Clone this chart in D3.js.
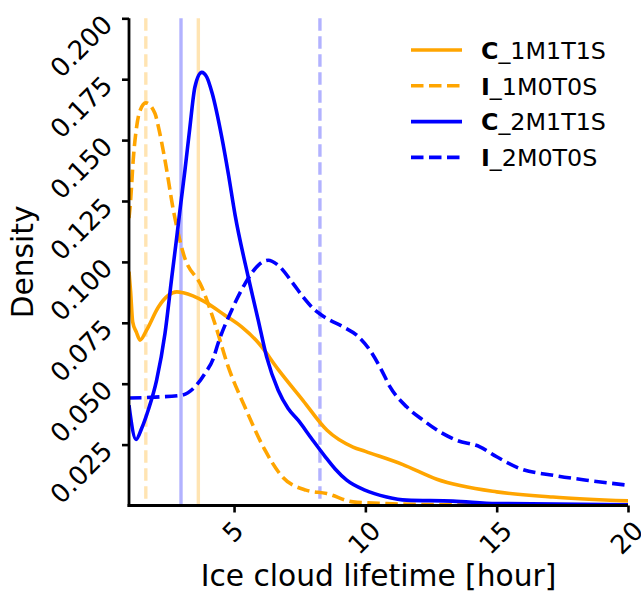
<!DOCTYPE html>
<html>
<head>
<meta charset="utf-8">
<script src="https://cdn.jsdelivr.net/npm/d3@7/dist/d3.min.js"></script>
<style>
  html, body { margin: 0; padding: 0; background: #fff; }
  svg { display: block; font-family: "DejaVu Sans", sans-serif; }
</style>
</head>
<body>
<svg id="chart" width="641" height="591"></svg>
<script>
// ---- Data ----
const seriesNames = ["C_1M1T1S", "I_1M0T0S", "C_2M1T1S", "I_2M0T0S"];
const seriesColors = ["#FFA500", "#FFA500", "#0000FF", "#0000FF"];
const seriesDashed = [false, true, false, true];

const c1m1t1sX = [1.0, 1.06, 1.14, 1.28, 1.42, 1.67, 2.12, 2.5, 2.82, 3.07, 3.89, 4.65, 5.29, 5.99, 6.67, 7.62, 8.54, 9.53, 10.0, 11.43, 12.72, 15.0, 17.14, 20.0];
const c1m1t1sY = [0.096, 0.088, 0.0754, 0.0712, 0.0679, 0.0720, 0.0815, 0.0863, 0.0877, 0.0873, 0.0836, 0.0781, 0.0733, 0.0660, 0.0560, 0.0432, 0.0309, 0.0240, 0.0222, 0.0168, 0.0108, 0.0056, 0.0035, 0.0019];

const i1m0t0sX = [1.0, 1.06, 1.16, 1.29, 1.42, 1.64, 1.99, 2.12, 2.37, 2.69, 3.07, 3.77, 4.27, 4.78, 5.41, 6.18, 6.82, 7.74, 8.53, 9.53, 10.82, 13.2, 20.0];
const i1m0t0sY = [0.118, 0.125, 0.1418, 0.1554, 0.1621, 0.1653, 0.1609, 0.1554, 0.1418, 0.1212, 0.1034, 0.0897, 0.0747, 0.0569, 0.0405, 0.0227, 0.0120, 0.0063, 0.0049, 0.0015, 0.0008, 0.0003, 0.0001];

const c2m1t1sX = [1.0, 1.04, 1.27, 1.48, 1.73, 2.05, 2.37, 2.63, 2.82, 2.94, 3.13, 3.32, 3.51, 3.77, 3.96, 4.17, 4.53, 4.78, 5.04, 5.54, 5.92, 6.24, 6.68, 7.06, 7.44, 7.95, 8.46, 8.85, 9.29, 9.98, 10.81, 11.57, 13.33, 15.0, 20.0];
const c2m1t1sY = [0.0412, 0.0379, 0.0271, 0.0316, 0.0391, 0.0514, 0.0706, 0.0938, 0.1103, 0.1212, 0.1376, 0.1554, 0.1718, 0.1778, 0.1759, 0.1691, 0.1513, 0.1363, 0.1192, 0.0938, 0.0761, 0.0610, 0.0473, 0.0398, 0.0350, 0.0275, 0.0202, 0.0150, 0.0104, 0.0063, 0.0035, 0.0022, 0.0018, 0.0008, 0.0003];

const i2m0t0sX = [1.0, 2.0, 3.0, 3.51, 3.89, 4.21, 4.39, 4.91, 5.42, 5.92, 6.30, 6.68, 7.25, 7.63, 8.08, 8.53, 9.16, 9.67, 10.17, 10.62, 10.94, 11.57, 12.2, 12.84, 13.47, 14.36, 15.0, 15.88, 17.15, 18.42, 20.0];
const i2m0t0sY = [0.0441, 0.0445, 0.0453, 0.0487, 0.0542, 0.0603, 0.0665, 0.0802, 0.0911, 0.0986, 0.1007, 0.0986, 0.0911, 0.0856, 0.0802, 0.0768, 0.0733, 0.0699, 0.0638, 0.0555, 0.0487, 0.0405, 0.0350, 0.0302, 0.0268, 0.0241, 0.0200, 0.0152, 0.0124, 0.0104, 0.0083];

// vertical reference lines (one per series, same order as seriesNames)
const meanLifetimes = [3.64, 1.64, 2.98, 8.27];

const xTicks = [5, 10, 15, 20];
const yTicks = [0.025, 0.05, 0.075, 0.1, 0.125, 0.15, 0.175, 0.2];
const xDomain = [1, 20];
const yDomain = [0, 0.2];
const xLabel = "Ice cloud lifetime [hour]";
const yLabel = "Density";

// ---- Layout ----
const pLeft = 129, pRight = 628, pTop = 18.3, pBottom = 505.5;
const tickFont = 26, labelFont = 29.7, legendFont = 23.8;
const lw = 3.6, dash = "12.5,5.5";

const svg = d3.select("#chart");
const x = d3.scaleLinear().domain(xDomain).range([pLeft, pRight]);
const y = d3.scaleLinear().domain(yDomain).range([pBottom, pTop]);

svg.append("defs").append("clipPath").attr("id", "clip")
  .append("rect").attr("x", pLeft).attr("y", pTop - 2).attr("width", pRight - pLeft).attr("height", pBottom - pTop + 2);

const plot = svg.append("g").attr("clip-path", "url(#clip)");

// vertical mean lines (alpha 0.3)
meanLifetimes.forEach((m, i) => {
  plot.append("line")
    .attr("x1", x(m)).attr("x2", x(m))
    .attr("y1", y(yDomain[1])).attr("y2", y(yDomain[0]))
    .attr("stroke", seriesColors[i]).attr("stroke-opacity", 0.3)
    .attr("stroke-width", 3.4)
    .attr("stroke-dasharray", seriesDashed[i] ? dash : null);
});

const seriesData = [
  d3.zip(c1m1t1sX, c1m1t1sY),
  d3.zip(i1m0t0sX, i1m0t0sY),
  d3.zip(c2m1t1sX, c2m1t1sY),
  d3.zip(i2m0t0sX, i2m0t0sY)
];

const line = d3.line().x(d => x(d[0])).y(d => y(d[1])).curve(d3.curveMonotoneX);

seriesData.forEach((data, i) => {
  plot.append("path")
    .attr("d", line(data))
    .attr("fill", "none")
    .attr("stroke", seriesColors[i])
    .attr("stroke-width", lw)
    .attr("stroke-linejoin", "round")
    .attr("stroke-dasharray", seriesDashed[i] ? dash : null);
});

// ---- Axes ----
const xAxis = d3.axisBottom(x).tickValues(xTicks).tickSize(7).tickFormat("");
const yAxis = d3.axisLeft(y).tickValues(yTicks).tickSize(7).tickFormat("");

const gx = svg.append("g").attr("transform", `translate(0,${pBottom})`).call(xAxis);
const gy = svg.append("g").attr("transform", `translate(${pLeft},0)`).call(yAxis);
[gx, gy].forEach(g => {
  g.select(".domain").attr("stroke", "#000").attr("stroke-width", 2.8);
  g.selectAll(".tick line").attr("stroke", "#000").attr("stroke-width", 2.6);
});
gx.select(".domain").attr("d", `M${pLeft - 1.4},0H${pRight}`);
gy.select(".domain").attr("d", `M0,${pTop}V${pBottom + 1.4}`);

const capH = 0.729 * tickFont;
// x tick labels: rotated 45°, bbox centered on tick
xTicks.forEach(t => {
  const txt = svg.append("text")
    .attr("font-size", tickFont)
    .attr("text-anchor", "end")
    .text(d3.format("d")(t));
  const w = txt.node().getComputedTextLength();
  const ex = x(t) - 1.5 + 0.354 * (w + capH);
  const ey = 519 + 0.707 * capH;
  txt.attr("transform", `translate(${ex},${ey}) rotate(-45)`);
});

// y tick labels: rotated 45°, right aligned
yTicks.forEach(t => {
  svg.append("text")
    .attr("font-size", tickFont)
    .attr("text-anchor", "end")
    .attr("transform", `translate(114,${y(t) + 8}) rotate(-45)`)
    .text(d3.format(".3f")(t));
});

// axis labels
svg.append("text")
  .attr("x", (pLeft + pRight) / 2).attr("y", 586)
  .attr("text-anchor", "middle").attr("font-size", labelFont)
  .text(xLabel);
svg.append("text")
  .attr("transform", `translate(33,${(pTop + pBottom) / 2}) rotate(-90)`)
  .attr("text-anchor", "middle").attr("font-size", labelFont)
  .text(yLabel);

// ---- Legend ----
const legendRows = [50, 85.8, 121.6, 157.4];
seriesNames.forEach((name, i) => {
  const ry = legendRows[i];
  svg.append("line")
    .attr("x1", 411).attr("x2", 462)
    .attr("y1", ry).attr("y2", ry)
    .attr("stroke", seriesColors[i]).attr("stroke-width", lw)
    .attr("stroke-dasharray", seriesDashed[i] ? dash : null);
  const t = svg.append("text")
    .attr("x", 481).attr("y", ry + 8.8)
    .attr("font-size", legendFont);
  t.append("tspan").attr("font-weight", "bold").text(name[0]);
  t.append("tspan").text(name.slice(1));
});
</script>
</body>
</html>
